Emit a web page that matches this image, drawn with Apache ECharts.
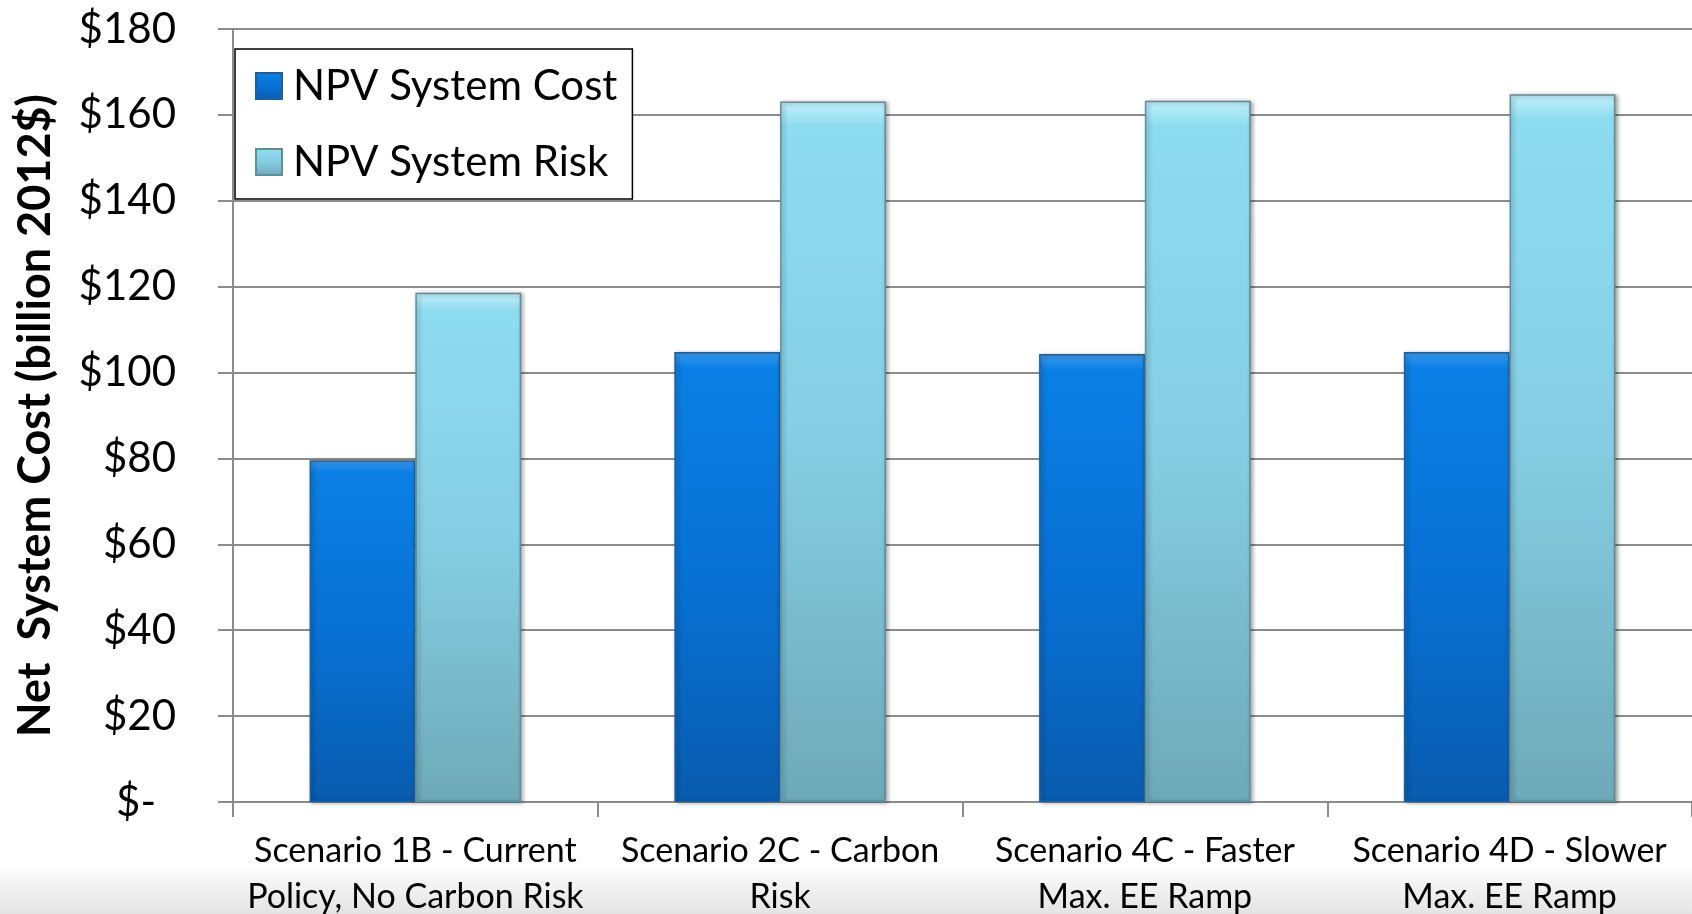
<!DOCTYPE html>
<html>
<head>
<meta charset="utf-8">
<title>Net System Cost by Scenario</title>
<script src="https://cdn.jsdelivr.net/npm/echarts@6/dist/echarts.min.js"></script>
<style>
  html, body { margin: 0; padding: 0; background: #ffffff; }
  #chart { width: 1692px; height: 914px; }
</style>
</head>
<body>
<div id="chart"></div>
<script>
// Scenario labels (two lines each) and NPV values in billion 2012$
const categories = [
  'Scenario 1B - Current\nPolicy, No Carbon Risk',
  'Scenario 2C - Carbon\nRisk',
  'Scenario 4C - Faster\nMax. EE Ramp',
  'Scenario 4D - Slower\nMax. EE Ramp'
];
const systemCost = [79.6, 104.8, 104.3, 104.8];
const systemRisk = [118.6, 163.1, 163.3, 164.8];
const seriesNames = ['NPV System Cost', 'NPV System Risk'];
const yTitle = 'Net  System Cost (billion 2012$)';

const FONT = 'Lato, "Open Sans", sans-serif';

function vGrad(stops) {
  return new echarts.graphic.LinearGradient(0, 0, 0, 1,
    stops.map(function (s) { return { offset: s[0], color: s[1] }; }));
}

const chart = echarts.init(document.getElementById('chart'), null, { renderer: 'canvas' });

chart.setOption({
  backgroundColor: '#ffffff',
  animation: false,
  graphic: [{
    type: 'rect',
    z: -10,
    shape: { x: 0, y: 871, width: 1692, height: 43 },
    style: {
      fill: new echarts.graphic.LinearGradient(0, 0, 0, 1, [
        { offset: 0, color: '#f9f9f9' },
        { offset: 1, color: '#e4e4e4' }
      ])
    },
    silent: true
  }],
  grid: {
    left: 233, right: 0, top: 29, bottom: 112,
    containLabel: false,
    outerBoundsMode: 'none'
  },
  legend: {
    orient: 'vertical',
    left: 235,
    top: 49,
    padding: [16, 15, 16, 20],
    itemGap: 34,
    itemWidth: 26,
    itemHeight: 26,
    icon: 'rect',
    backgroundColor: '#ffffff',
    borderColor: '#000000',
    borderWidth: 1.5,
    borderRadius: 0,
    textStyle: { fontFamily: FONT, fontSize: 42, color: '#000000', padding: [0, 0, 0, 6] },
    data: seriesNames
  },
  xAxis: {
    type: 'category',
    data: categories,
    axisLine: { show: true, lineStyle: { color: '#8c8c8c', width: 2 } },
    axisTick: { show: true, length: 15, lineStyle: { color: '#8c8c8c', width: 2 } },
    axisLabel: {
      fontFamily: FONT, fontSize: 34, color: '#000000',
      lineHeight: 46, margin: 26, interval: 0, align: 'center'
    },
    splitLine: { show: false }
  },
  yAxis: {
    type: 'value',
    min: 0, max: 180, interval: 20,
    name: yTitle,
    nameLocation: 'middle',
    nameRotate: 90,
    nameGap: 175,
    nameTextStyle: { fontFamily: FONT, fontSize: 45, fontWeight: 'bold', color: '#000000' },
    axisLine: { show: true, lineStyle: { color: '#8c8c8c', width: 2 } },
    axisTick: { show: true, length: 15, lineStyle: { color: '#8c8c8c', width: 2 } },
    axisLabel: {
      fontFamily: FONT, fontSize: 42, color: '#000000', margin: 57,
      formatter: function (v) { return v === 0 ? '{z|$-}' : '$' + v; },
      rich: { z: { fontFamily: FONT, fontSize: 42, color: '#000000', padding: [0, 20, 0, 0] } }
    },
    splitLine: { show: true, lineStyle: { color: '#8c8c8c', width: 2 } }
  },
  series: [
    {
      name: seriesNames[0],
      type: 'bar',
      data: systemCost,
      barGap: '0%',
      barCategoryGap: '42%',
      itemStyle: {
        color: vGrad([[0, '#3a9cf2'], [0.035, '#0b7fe4'], [0.5, '#0871d4'], [1, '#095cae']]),
        borderColor: '#1c5f9c',
        borderWidth: 1.5,
        shadowColor: 'rgba(0,0,0,0.35)',
        shadowBlur: 4,
        shadowOffsetX: 2,
        shadowOffsetY: 1
      }
    },
    {
      name: seriesNames[1],
      type: 'bar',
      data: systemRisk,
      itemStyle: {
        color: vGrad([[0, '#c2f1fb'], [0.035, '#8edcf0'], [0.5, '#85cde2'], [1, '#6ea9b8']]),
        borderColor: '#5f8d9a',
        borderWidth: 1.5,
        shadowColor: 'rgba(0,0,0,0.35)',
        shadowBlur: 4,
        shadowOffsetX: 2,
        shadowOffsetY: 1
      }
    }
  ]
});
</script>
</body>
</html>
